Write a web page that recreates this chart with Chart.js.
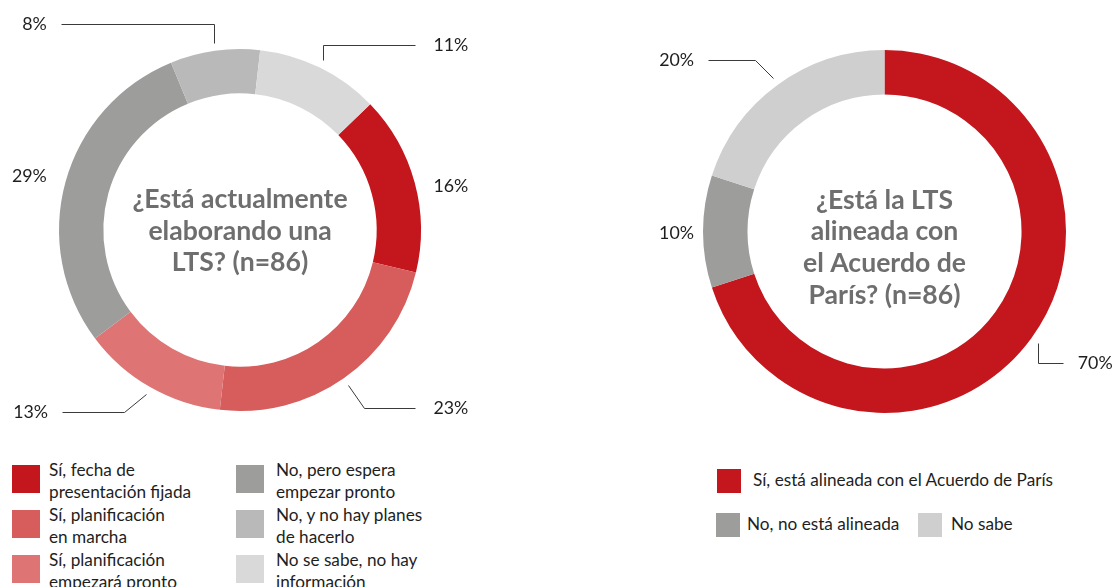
<!DOCTYPE html>
<html>
<head>
<meta charset="utf-8">
<script src="https://cdn.jsdelivr.net/npm/chart.js@4.4.1/dist/chart.umd.min.js"></script>
<style>
  html, body { margin: 0; padding: 0; background: #ffffff; }
  body { width: 1115px; height: 587px; position: relative; overflow: hidden; font-family: Lato, "Noto Sans", sans-serif; color: #1e1e1e; }
  #cLeft { position: absolute; left: 0; top: 0; width: 480px; height: 440px; }
  #cRight { position: absolute; left: 640px; top: 0; width: 475px; height: 440px; }
  .leg { position: absolute; display: flex; align-items: flex-start; }
  .sw { flex: none; }
  .tx { font-size: 17.2px; line-height: 22px; white-space: pre-line; color: #1e1e1e; }
</style>
</head>
<body>
<canvas id="cLeft" width="480" height="440"></canvas>
<canvas id="cRight" width="475" height="440"></canvas>
<div id="legLeft"></div>
<div id="legRight"></div>
<script>
// ---- data ----
const leftCategories = [
  'Sí, fecha de\npresentación fijada',
  'Sí, planificación\nen marcha',
  'Sí, planificación\nempezará pronto',
  'No, pero espera\nempezar pronto',
  'No, y no hay planes\nde hacerlo',
  'No se sabe, no hay\ninformación'
];
const leftValues = [16, 23, 13, 29, 8, 11];
const leftTitle = ['¿Está actualmente', 'elaborando una', 'LTS? (n=86)'];

const rightCategories = [
  'Sí, está alineada con el Acuerdo de París',
  'No, no está alineada',
  'No sabe'
];
const rightValues = [70, 10, 20];
const rightTitle = ['¿Está la LTS', 'alineada con', 'el Acuerdo de', 'París? (n=86)'];

// ---- styles ----
const leftColors = ['#C4171D', '#D75C5C', '#DE7474', '#9D9D9C', '#B9B9B9', '#D9D9D9'];
const rightColors = ['#C4171D', '#9D9D9C', '#CFCFCF'];

// label layout (relative to anchor on each arc's middle angle)
const leftLabelLayout = [
  { path: [], align: 'left', tx: 11, ty: 6 },
  { path: [[16, 23], [51, 0]], align: 'left', tx: 18, ty: 0 },
  { path: [[-22, 18], [-62, 0]], align: 'right', tx: -14, ty: 0 },
  { path: [], align: 'right', tx: -11, ty: -4 },
  { path: [[0, -19], [-153, 0]], align: 'right', tx: -14, ty: 0 },
  { path: [[0, -15], [92, 0]], align: 'left', tx: 18, ty: 0 }
];
const rightLabelLayout = [
  { path: [[0, 20], [25, 0]], align: 'left', tx: 15, ty: 0 },
  { path: [], align: 'right', tx: -1, ty: 2 },
  { path: [[-18, -18], [-47, 0]], align: 'right', tx: -14, ty: 0 }
];

const leaderPlugin = {
  id: 'leaderLabels',
  afterDatasetsDraw(chart, args, opts) {
    const ctx = chart.ctx;
    const meta = chart.getDatasetMeta(0);
    const values = chart.data.datasets[0].data;
    ctx.save();
    ctx.strokeStyle = '#3a3a3a';
    ctx.lineWidth = 1;
    ctx.fillStyle = '#1e1e1e';
    ctx.font = '17.8px Lato';
    ctx.textBaseline = 'middle';
    meta.data.forEach((arc, i) => {
      const lay = opts.layout[i];
      const p = arc.getProps(['x', 'y', 'startAngle', 'endAngle', 'outerRadius'], true);
      const mid = (p.startAngle + p.endAngle) / 2;
      const r = p.outerRadius + opts.gap;
      let px = p.x + Math.cos(mid) * r;
      let py = p.y + Math.sin(mid) * r;
      if (lay.path.length) {
        ctx.beginPath();
        ctx.moveTo(Math.round(px) + 0.5, Math.round(py) + 0.5);
        lay.path.forEach(([dx, dy]) => {
          px += dx; py += dy;
          ctx.lineTo(Math.round(px) + 0.5, Math.round(py) + 0.5);
        });
        ctx.stroke();
      }
      ctx.textAlign = lay.align;
      ctx.fillText(values[i] + '%', px + lay.tx, py + lay.ty);
    });
    ctx.restore();
  }
};

const centerTextPlugin = {
  id: 'centerText',
  afterDraw(chart, args, opts) {
    const ctx = chart.ctx;
    const arc = chart.getDatasetMeta(0).data[0];
    const cx = arc.x, cy = arc.y + opts.dy;
    ctx.save();
    ctx.fillStyle = '#6e6e6e';
    ctx.font = 'bold 26.6px Lato';
    ctx.textAlign = 'center';
    ctx.textBaseline = 'middle';
    const n = opts.lines.length;
    opts.lines.forEach((t, i) => {
      ctx.fillText(t, cx, cy + (i - (n - 1) / 2) * opts.lineHeight);
    });
    ctx.restore();
  }
};

function makeChart(id, labels, values, colors, padding, layout, title, dy, rotation) {
  return new Chart(document.getElementById(id), {
    type: 'doughnut',
    data: {
      labels: labels,
      datasets: [{ data: values, backgroundColor: colors, borderWidth: 0, hoverOffset: 0 }]
    },
    options: {
      responsive: false,
      animation: false,
      cutout: '75.5%',
      rotation: rotation,
      layout: { padding: padding },
      plugins: {
        legend: { display: false },
        tooltip: { enabled: false },
        leaderLabels: { layout: layout, gap: 8 },
        centerText: { lines: title, dy: dy, lineHeight: 31.7 }
      }
    },
    plugins: [leaderPlugin, centerTextPlugin]
  });
}

makeChart('cLeft', leftCategories, leftValues, leftColors,
  { left: 59, right: 59, top: 49, bottom: 29 }, leftLabelLayout, leftTitle, 1, 46);
makeChart('cRight', rightCategories, rightValues, rightColors,
  { left: 63, right: 49, top: 50, bottom: 27 }, rightLabelLayout, rightTitle, 16, 0);

// ---- legends ----
function addLegend(containerId, items) {
  const c = document.getElementById(containerId);
  items.forEach(it => {
    const d = document.createElement('div');
    d.className = 'leg';
    d.style.left = it.x + 'px';
    d.style.top = it.y + 'px';
    const sw = document.createElement('div');
    sw.className = 'sw';
    sw.style.width = it.size + 'px';
    sw.style.height = it.size + 'px';
    sw.style.background = it.color;
    sw.style.marginTop = it.swTop + 'px';
    sw.style.marginRight = it.gap + 'px';
    const tx = document.createElement('div');
    tx.className = 'tx';
    tx.textContent = it.text;
    d.appendChild(sw); d.appendChild(tx);
    c.appendChild(d);
  });
}
const leftLegendPos = [[12, 459], [12, 504], [12, 549], [236, 459], [236, 504], [236, 549]];
addLegend('legLeft', leftCategories.map((t, i) => ({
  text: t, color: leftColors[i], x: leftLegendPos[i][0], y: leftLegendPos[i][1],
  size: 28, swTop: 6, gap: i < 3 ? 9 : 12
})));
const rightLegendPos = [[717, 469], [716, 513], [918, 513]];
addLegend('legRight', rightCategories.map((t, i) => ({
  text: t, color: rightColors[i], x: rightLegendPos[i][0], y: rightLegendPos[i][1],
  size: 24, swTop: 0, gap: i === 0 ? 12 : (i === 1 ? 7 : 9)
})));
</script>
</body>
</html>
